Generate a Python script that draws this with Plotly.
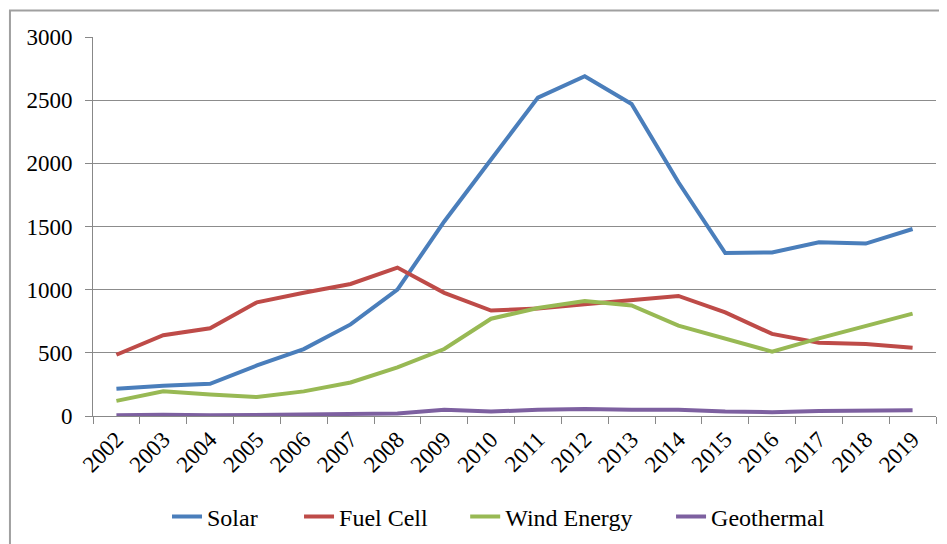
import plotly.graph_objects as go

years = [str(y) for y in range(2002, 2020)]
solar = [215, 240, 255, 400, 530, 725, 1000, 1540, 2030, 2520, 2690, 2470, 1850, 1290, 1295, 1375, 1365, 1480]
fuel_cell = [485, 640, 695, 900, 975, 1045, 1175, 975, 835, 850, 885, 920, 950, 820, 650, 580, 570, 540]
wind = [120, 195, 170, 150, 195, 265, 385, 530, 770, 855, 910, 875, 715, 610, 510, 615, 710, 810]
geothermal = [5, 10, 5, 10, 12, 15, 20, 50, 35, 50, 55, 50, 50, 35, 30, 40, 45, 45]

series = [
    ("Solar", solar, "#4A7EBB"),
    ("Fuel Cell", fuel_cell, "#BE4B48"),
    ("Wind Energy", wind, "#98B954"),
    ("Geothermal", geothermal, "#7D60A0"),
]
legend_x = [0.0878, 0.2444, 0.4415, 0.6857]

FAMILY = "Liberation Serif, Times New Roman, serif"
tick_font = dict(family=FAMILY, size=23, color="black")
leg_font = dict(family=FAMILY, size=24, color="black")

fig = go.Figure()
legends = {}
for i, (name, vals, color) in enumerate(series):
    key = "legend" if i == 0 else f"legend{i+1}"
    fig.add_trace(go.Scatter(x=years, y=vals, name=name, mode="lines",
                             line=dict(color=color, width=4), legend=key))
    legends[key] = dict(orientation="h", x=legend_x[i], xanchor="left", y=-0.2665,
                        yanchor="middle", font=leg_font, bgcolor="rgba(0,0,0,0)")

fig.update_layout(
    width=939, height=536,
    margin=dict(l=85, r=11, t=29, b=128, autoexpand=False),
    paper_bgcolor="white", plot_bgcolor="white",
    font=tick_font,
    showlegend=True,
    xaxis=dict(type="category", range=[-0.5, 17.5], tickangle=-45, tickson="boundaries",
               ticks="outside", ticklen=7, tickcolor="#888888", showline=True,
               linecolor="#888888", linewidth=1, showgrid=False, tickfont=tick_font,
               automargin=False),
    yaxis=dict(range=[0, 3000], dtick=500, ticks="outside", ticklen=7, tickcolor="#888888",
               showline=True, linecolor="#888888", linewidth=1, showgrid=True,
               gridcolor="#8c8c8c", gridwidth=1, tickfont=tick_font, zeroline=False,
               ticklabelstandoff=8, automargin=False),
    shapes=[dict(type="rect", xref="paper", yref="paper",
                 x0=-0.0985, x1=1.05, y0=-0.5, y1=1.070,
                 line=dict(color="#a0a0a0", width=2), fillcolor="rgba(0,0,0,0)", layer="below")],
    **legends,
)

fig.write_html("out.html")
